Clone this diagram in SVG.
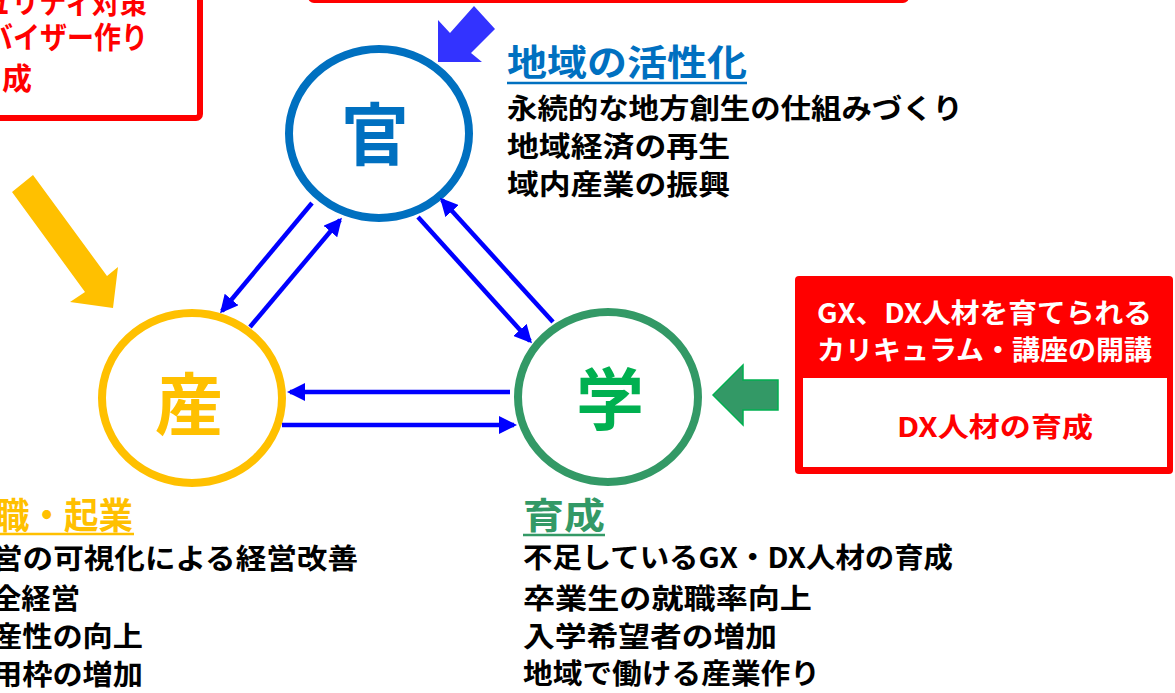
<svg xmlns="http://www.w3.org/2000/svg" width="1175" height="693" viewBox="0 0 1175 693">
<style>
text{font-family:"Noto Sans CJK JP","Noto Sans CJK SC",sans-serif;font-weight:bold}
.body{font-size:28px;fill:#000}
.title{font-size:36px}
.red{fill:#FF0000;font-size:30px}
.big{font-size:68px;text-anchor:middle}
.conn{stroke:#0000FF;stroke-width:4.5;fill:none;marker-end:url(#ah)}
</style>
<defs>
<marker id="ah" markerUnits="userSpaceOnUse" markerWidth="18" markerHeight="18" viewBox="0 0 18 18" refX="15" refY="9" orient="auto">
<path d="M0,0 L18,9 L0,18 z" fill="#0000FF"/>
</marker>
</defs>
<rect width="1175" height="693" fill="#FFFFFF"/>

<g id="box-topleft">
<rect x="-20" y="-20" width="220" height="138" rx="4" fill="#FFFFFF" stroke="#FF0000" stroke-width="6"/>
<text class="red" x="-16" y="13" textLength="163" lengthAdjust="spacingAndGlyphs">ュリティ対策</text>
<text class="red" x="-14" y="48" textLength="162" lengthAdjust="spacingAndGlyphs">バイザー作り</text>
<text class="red" x="2" y="89">成</text>
</g>

<g id="box-top">
<rect x="310" y="-40" width="597" height="41" rx="4" fill="#FFFFFF" stroke="#FF0000" stroke-width="4"/>
</g>

<g id="arrow-blue">
<polygon points="438,62 438,20 450,33 474,6 495,29 471,53 482,62" fill="#3333FF"/>
</g>
<g id="arrow-yellow">
<polygon points="12,192 33,175 107,276 118,267 113,308 70,302 85,292" fill="#FFC000"/>
</g>
<g id="arrow-green">
<polygon points="713,395 743,365 743,380 778,380 778,410 743,410 743,425" fill="#339966" stroke="#00B050" stroke-width="1.5"/>
</g>

<g id="node-kan">
<ellipse cx="379" cy="133.5" rx="90" ry="84.5" fill="#FFFFFF" stroke="#0070C0" stroke-width="8"/>
<text class="big" x="375" y="160" fill="#0070C0">官</text>
</g>
<g id="node-san">
<ellipse cx="192" cy="398" rx="90" ry="85" fill="#FFFFFF" stroke="#FFC000" stroke-width="8"/>
<text class="big" x="189" y="430" fill="#FFC000">産</text>
</g>
<g id="node-gaku">
<ellipse cx="608" cy="397" rx="90" ry="85" fill="#FFFFFF" stroke="#339966" stroke-width="8"/>
<text class="big" x="610" y="425" fill="#00B050">学</text>
</g>

<g id="connectors">
<line class="conn" x1="312" y1="203" x2="222" y2="311"/>
<line class="conn" x1="250" y1="327" x2="340" y2="220"/>
<line class="conn" x1="418" y1="217" x2="530" y2="341"/>
<line class="conn" x1="553" y1="322" x2="442" y2="200"/>
<line class="conn" x1="510" y1="392" x2="290" y2="392"/>
<line class="conn" x1="282" y1="425" x2="514" y2="425"/>
</g>

<g id="text-kan">
<text class="title" x="507" y="76" fill="#0070C0" textLength="240" lengthAdjust="spacingAndGlyphs">地域の活性化</text>
<line x1="507" y1="83" x2="747" y2="83" stroke="#0070C0" stroke-width="2.5"/>
<text class="body" x="507" y="119" textLength="456" lengthAdjust="spacingAndGlyphs">永続的な地方創生の仕組みづくり</text>
<text class="body" x="507" y="157" textLength="223" lengthAdjust="spacingAndGlyphs">地域経済の再生</text>
<text class="body" x="507" y="195" textLength="223" lengthAdjust="spacingAndGlyphs">域内産業の振興</text>
</g>

<g id="text-san">
<text class="title" x="-5" y="529" fill="#FFC000" textLength="138" lengthAdjust="spacingAndGlyphs">職・起業</text>
<line x1="0" y1="534" x2="134" y2="534" stroke="#FFC000" stroke-width="2.5"/>
<text class="body" x="-8" y="569" textLength="366" lengthAdjust="spacingAndGlyphs">営の可視化による経営改善</text>
<text class="body" x="-8" y="609" textLength="88" lengthAdjust="spacingAndGlyphs">全経営</text>
<text class="body" x="-8" y="647" textLength="151" lengthAdjust="spacingAndGlyphs">産性の向上</text>
<text class="body" x="-8" y="685" textLength="151" lengthAdjust="spacingAndGlyphs">用枠の増加</text>
</g>

<g id="text-gaku">
<text class="title" x="523" y="529" fill="#339966" textLength="82" lengthAdjust="spacingAndGlyphs">育成</text>
<line x1="523" y1="535" x2="605" y2="535" stroke="#339966" stroke-width="2.5"/>
<text class="body" x="523" y="568" textLength="430" lengthAdjust="spacingAndGlyphs">不足しているGX・DX人材の育成</text>
<text class="body" x="523" y="609" textLength="289" lengthAdjust="spacingAndGlyphs">卒業生の就職率向上</text>
<text class="body" x="523" y="647" textLength="254" lengthAdjust="spacingAndGlyphs">入学希望者の増加</text>
<text class="body" x="523" y="684" textLength="297" lengthAdjust="spacingAndGlyphs">地域で働ける産業作り</text>
</g>

<g id="box-right">
<rect x="795" y="276" width="378" height="198" rx="4" fill="#FF0000"/>
<rect x="803" y="378" width="364" height="89" fill="#FFFFFF"/>
<text x="817" y="323" font-size="27" fill="#FFFFFF" textLength="335" lengthAdjust="spacingAndGlyphs">GX、DX人材を育てられる</text>
<text x="817" y="360" font-size="27" fill="#FFFFFF" textLength="335" lengthAdjust="spacingAndGlyphs">カリキュラム・講座の開講</text>
<text x="897" y="437" font-size="27" fill="#FF0000" textLength="196" lengthAdjust="spacingAndGlyphs">DX人材の育成</text>
</g>
</svg>
